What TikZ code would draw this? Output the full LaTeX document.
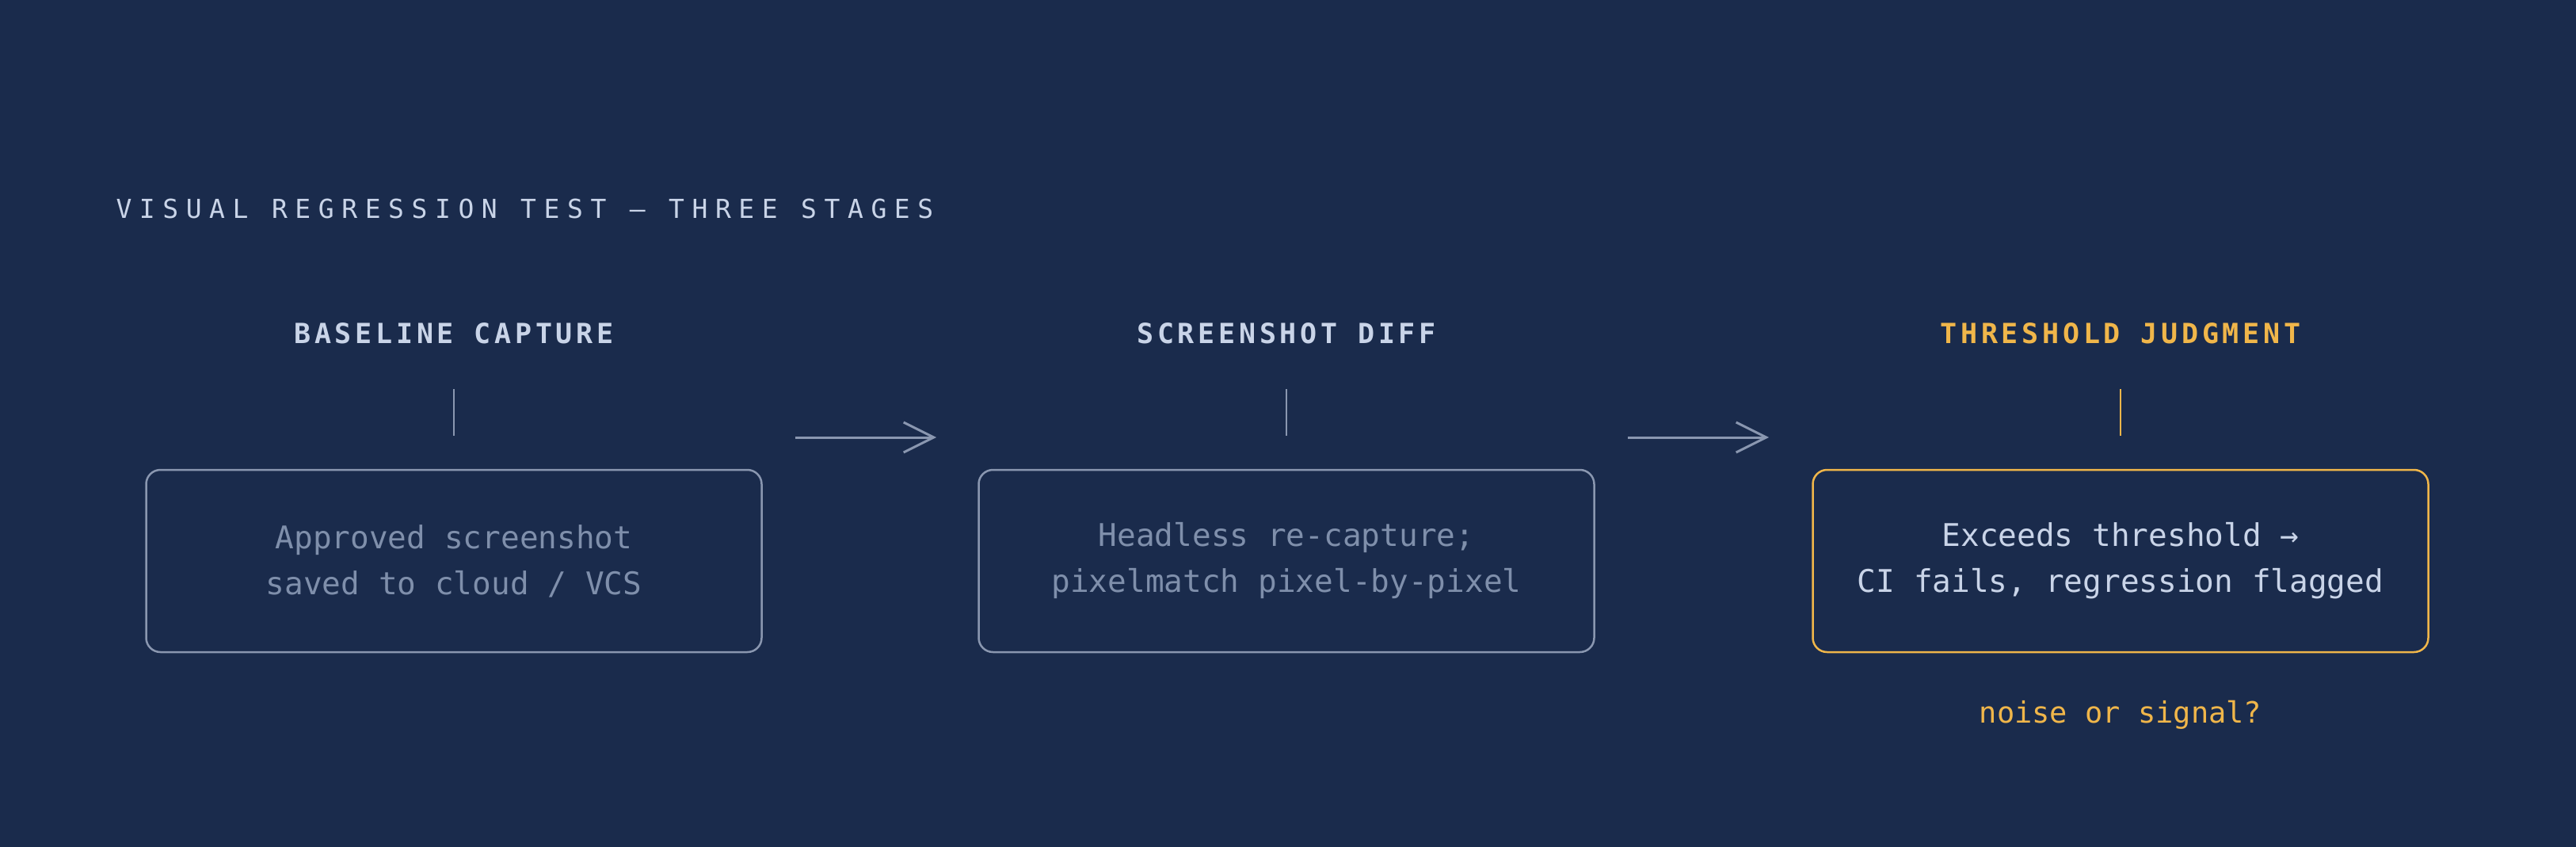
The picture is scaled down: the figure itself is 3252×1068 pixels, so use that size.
\documentclass[tikz,border=0pt]{standalone}
\usepackage{fontspec}
\setmonofont{DejaVu Sans Mono}
\usetikzlibrary{arrows.meta}
\definecolor{bg}{HTML}{1A2B4C}
\definecolor{lt}{HTML}{C9D4E8}
\definecolor{gr}{HTML}{7F8FAB}
\definecolor{bd}{HTML}{8A97B0}
\definecolor{og}{HTML}{F0B64A}
\begin{document}
\begin{tikzpicture}[x=1pt,y=-1pt,
  box/.style={draw=bd,line width=2.5pt,rounded corners=18pt,minimum width=777pt,minimum height=230pt,align=center,text=gr,font=\ttfamily\fontsize{39.4}{58}\selectfont},
  head/.style={text=lt,font=\ttfamily\bfseries\fontsize{35}{40}\selectfont\addfontfeature{LetterSpace=13.5}},
  tick/.style={draw=bd,line width=2pt},
  arr/.style={draw=bd,line width=3pt,-{Straight Barb[length=38pt,width=38pt,line width=3pt]}}]
\useasboundingbox (0,0) rectangle (3252,1068);
\fill[bg] (-5,-5) rectangle (3257,1073);
\node[anchor=west,text=lt,font=\ttfamily\fontsize{33}{40}\selectfont\addfontfeature{LetterSpace=29}] (title) at (143,263) {VISUAL REGRESSION TEST — THREE STAGES};
\node[head] (h1) at (573,421) {BASELINE CAPTURE};
\node[head] (h2) at (1624,421) {SCREENSHOT DIFF};
\node[head,text=og] (h3) at (2677,421) {THRESHOLD JUDGMENT};
\coordinate (t1a) at (573,491); \coordinate (t1b) at (573,550);
\coordinate (t2a) at (1624,491); \coordinate (t2b) at (1624,550);
\coordinate (t3a) at (2677,491); \coordinate (t3b) at (2677,550);
\draw[tick] (t1a) -- (t1b);
\draw[tick] (t2a) -- (t2b);
\draw[tick,draw=og] (t3a) -- (t3b);
\node[box] (b1) at (573,708) {Approved screenshot\\saved to cloud / VCS};
\node[box] (b2) at (1624,708) {Headless re-capture;\\pixelmatch pixel-by-pixel};
\node[box,draw=og,text=lt] (b3) at (2677,708) {Exceeds threshold →\\CI fails, regression flagged};
\coordinate (a1a) at (1004,552); \coordinate (a1b) at (1182,552);
\coordinate (a2a) at (2055,552); \coordinate (a2b) at (2233,552);
\draw[arr] (a1a) -- (a1b);
\draw[arr] (a2a) -- (a2b);
\node[text=og,font=\ttfamily\fontsize{37}{40}\selectfont] (note) at (2677,902) {noise or signal?};
\end{tikzpicture}
\end{document}
